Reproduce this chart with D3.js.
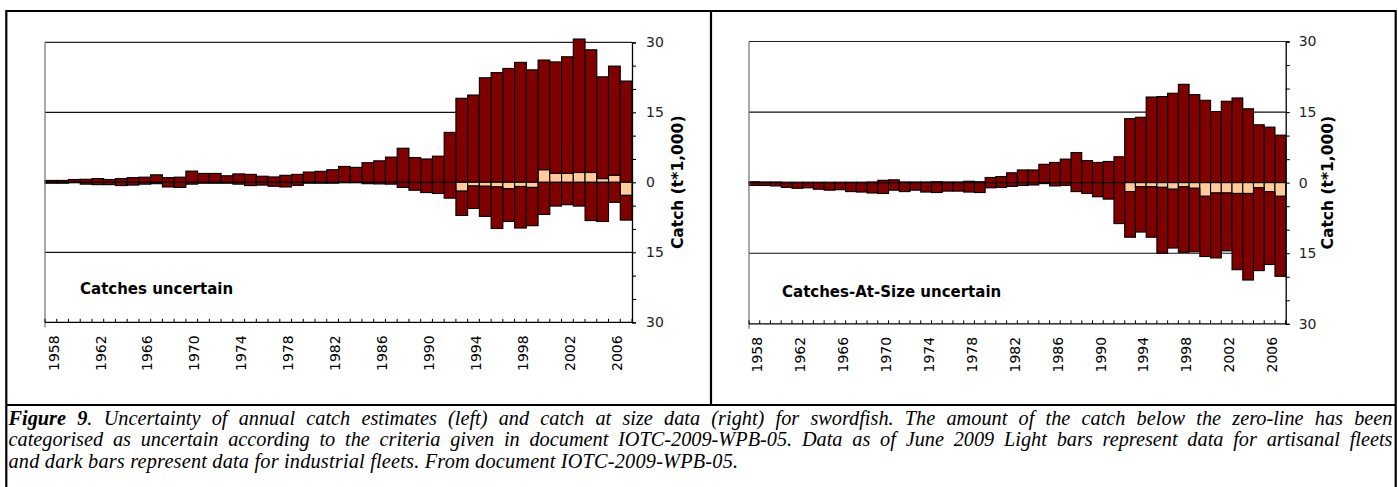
<!DOCTYPE html>
<html><head><meta charset="utf-8">
<script src="https://cdn.jsdelivr.net/npm/d3@7"></script>
<style>body{margin:0;background:#fff;} svg{display:block;}</style>
</head><body><svg id="c" width="1398" height="487"></svg>
<script>
// ---------- data (thousand tonnes) ----------
const years = [1958,1959,1960,1961,1962,1963,1964,1965,1966,1967,1968,1969,1970,1971,1972,1973,1974,1975,1976,1977,
  1978,1979,1980,1981,1982,1983,1984,1985,1986,1987,1988,1989,1990,1991,1992,1993,1994,1995,1996,1997,
  1998,1999,2000,2001,2002,2003,2004,2005,2006,2007];
const yearTickLabels = [1958,1962,1966,1970,1974,1978,1982,1986,1990,1994,1998,2002,2006];
const yTickValues = [-30,-25,-20,-15,-10,-5,0,5,10,15,20,25,30];
const yLabelValues = [-30,-15,0,15,30];

// Left: catches uncertain
const catchLightCertain = [0,0,0,0,0,0,0,0,0,0, 0,0,0,0,0,0,0,0,0,0,
  0,0,0,0,0,0,0,0,0,0, 0,0,0,0,0,0,0,0,0,0,
  0,0,2.7,1.9,1.9,2.1,2.1,0.8,1.5,0];
const catchDarkCertain = [0.4,0.4,0.6,0.65,0.8,0.6,0.8,1.0,1.1,1.6, 1.0,1.1,2.4,1.9,1.9,1.4,1.8,1.7,1.3,1.15,
  1.5,1.7,2.2,2.35,2.7,3.4,3.2,4.2,4.6,5.4, 7.3,5.3,5.0,5.6,10.7,18.0,18.7,22.4,23.5,24.4,
  25.7,24.1,23.5,23.9,25.0,28.6,26.3,21.8,23.4,21.7];
const catchLightUncertain = [0,0,0,0,0,0,0,0,0,0, 0,0,0,0,0,0,0,0,0,0,
  0,0,0,0,0,0,0,0,0,0, 0,0,0,0,0,1.9,0.8,0.85,1.0,1.4,
  0.9,1.1,0,0,0,0,0,0,0,2.8];
const catchDarkUncertain = [0.2,0.2,0.1,0.4,0.5,0.5,0.7,0.6,0.4,0.3, 1.0,1.1,0.4,0.2,0.2,0.2,0.4,0.7,0.6,0.85,
  1.0,0.65,0.2,0.2,0.2,0.1,0.1,0.3,0.35,0.4, 1.1,1.7,2.2,2.4,3.4,5.2,4.8,6.45,8.9,7.0,
  8.9,8.2,6.9,5.1,4.8,5.1,8.2,8.4,4.3,5.3];

// Right: catches-at-size uncertain
const casLightCertain = [0,0,0,0,0,0,0,0,0,0, 0,0,0,0,0,0,0,0,0,0,
  0,0,0,0,0,0,0,0,0,0, 0,0,0,0,0,0,0,0,0,0,
  0,0,0,0,0,0,0,0,0,0];
const casDarkCertain = [0.2,0.15,0.15,0.1,0.1,0.1,0.1,0.1,0.1,0.1, 0.1,0.15,0.5,0.6,0.15,0.15,0.15,0.2,0.15,0.15,
  0.3,0.2,1.1,1.3,2.1,2.7,2.7,3.9,4.3,5.0, 6.4,4.7,4.3,4.5,5.5,13.6,13.9,18.2,18.3,19.0,
  20.9,18.7,17.5,15.1,17.3,18.0,15.7,12.3,11.8,10.1];
const casLightUncertain = [0,0,0,0,0,0,0,0,0,0, 0,0,0,0,0,0,0,0,0,0,
  0,0,0,0,0,0,0,0,0,0, 0,0,0,0,0,1.9,0.85,0.85,1.0,1.4,
  0.85,1.2,2.9,2.2,2.2,2.3,2.3,1.1,1.9,2.9];
const casDarkUncertain = [0.6,0.6,0.7,1.0,1.2,1.1,1.4,1.6,1.5,1.9, 2.0,2.2,2.3,1.6,1.9,1.6,2.0,2.1,1.8,1.8,
  2.0,2.1,1.1,1.0,0.8,0.6,0.5,0.2,0.7,0.6, 1.9,2.3,3.0,3.5,8.7,9.7,9.65,10.75,14.0,12.5,
  13.95,13.5,12.8,13.8,12.3,16.2,18.4,17.6,15.5,17.0];

const panelTitles = ["Catches uncertain", "Catches-At-Size uncertain"];
const axisTitle = "Catch (t*1,000)";
const captionLines = [
  [["Figure 9", true], [". Uncertainty of annual catch estimates (left) and catch at size data (right) for swordfish. The amount of the catch below the zero-line has been", false]],
  [["categorised as uncertain according to the criteria given in document IOTC-2009-WPB-05. Data as of June 2009 Light bars represent data for artisanal fleets", false]],
  [["and dark bars represent data for industrial fleets. From document IOTC-2009-WPB-05.", false]]
];

// ---------- drawing ----------
const DARK = "#800000", LIGHT = "#FFCC99";
const svg = d3.select("#c");
svg.append("rect").attr("width",1398).attr("height",487).attr("fill","#fff");

const panels = [
  {x0:45, x1:632, top:42.3, bottom:322.3, series:[catchLightCertain,catchDarkCertain,catchLightUncertain,catchDarkUncertain],
   title:panelTitles[0], tx:80, ty:294, labPad:10, axTx:683},
  {x0:749, x1:1285.7, top:41.5, bottom:323.8, series:[casLightCertain,casDarkCertain,casLightUncertain,casDarkUncertain],
   title:panelTitles[1], tx:782, ty:297, labPad:9, axTx:1333}
];
const keys = ["lc","dc","lu","du"];
const fills = {lc:LIGHT, dc:DARK, lu:LIGHT, du:DARK};

panels.forEach(p => {
  const g = svg.append("g");
  const x = d3.scaleBand().domain(years).range([p.x0, p.x1]).padding(0);
  const y = d3.scaleLinear().domain([-30, 30]).range([p.bottom, p.top]);

  // gridlines
  g.selectAll("line.grid").data([30, 15, -15]).join("line")
    .attr("x1", p.x0).attr("x2", p.x1).attr("y1", d => y(d)).attr("y2", d => y(d))
    .attr("stroke", d => d === 30 ? "#222" : "#111").attr("stroke-width", 1.2);

  // stacked bars
  const rows = years.map((yr, i) => ({year: yr, lc: p.series[0][i], dc: p.series[1][i], lu: -p.series[2][i], du: -p.series[3][i]}));
  const stacked = d3.stack().keys(keys).offset(d3.stackOffsetDiverging)(rows);
  stacked.forEach(s => {
    g.append("g").selectAll("rect").data(s.filter(d => d[1] !== d[0])).join("rect")
      .attr("x", d => x(d.data.year))
      .attr("width", x.bandwidth())
      .attr("y", d => y(d[1]))
      .attr("height", d => y(d[0]) - y(d[1]))
      .attr("fill", fills[s.key])
      .attr("stroke", "#000").attr("stroke-width", 1.1);
  });

  // left frame line
  g.append("line").attr("x1", p.x0).attr("x2", p.x0).attr("y1", y(30)).attr("y2", y(-30) + 5)
    .attr("stroke", "#707070").attr("stroke-width", 1.2);

  // x axis
  g.append("line").attr("x1", p.x0).attr("x2", p.x1).attr("y1", y(-30)).attr("y2", y(-30))
    .attr("stroke", "#000").attr("stroke-width", 1.3);
  const bounds = years.map(v => x(v)).concat([p.x1]);
  g.selectAll("line.xt").data(bounds).join("line")
    .attr("x1", d => d).attr("x2", d => d).attr("y1", y(-30) - 3.5).attr("y2", y(-30))
    .attr("stroke", "#000").attr("stroke-width", 1);
  const xAxis = d3.axisBottom(x).tickValues(yearTickLabels).tickSize(0).tickPadding(0);
  const xg = g.append("g").attr("transform", `translate(0,${y(-30)})`).call(xAxis);
  xg.select(".domain").remove();
  xg.selectAll("text")
    .attr("transform", "rotate(-90)")
    .attr("text-anchor", "end")
    .attr("x", -13).attr("y", 0).attr("dy", "0.55em")
    .attr("font-family", "DejaVu Sans").attr("font-size", 14).attr("fill", "#000");

  // right y axis
  const yAxis = d3.axisRight(y).tickValues(yTickValues).tickSize(4).tickPadding(p.labPad)
    .tickFormat(d => yLabelValues.includes(d) ? String(Math.abs(d)) : "");
  const yg = g.append("g").attr("transform", `translate(${p.x1},0)`).call(yAxis);
  yg.select(".domain").attr("stroke", "#000").attr("stroke-width", 1.3);
  yg.selectAll(".tick line").attr("stroke", "#000").attr("stroke-width", 1.1);
  yg.selectAll("text").attr("font-family", "DejaVu Sans").attr("font-size", 14).attr("fill", "#222");

  // axis title
  g.append("text").attr("transform", `translate(${p.axTx},${y(0)}) rotate(-90)`)
    .attr("text-anchor", "middle").attr("font-family", "DejaVu Sans").attr("font-weight", "bold")
    .attr("font-size", 15.5).text(axisTitle);

  // panel title
  g.append("text").attr("x", p.tx).attr("y", p.ty)
    .attr("font-family", "DejaVu Sans").attr("font-weight", "bold").attr("font-size", 15)
    .text(p.title);
});

// borders
const border = svg.append("g").attr("stroke", "#000").attr("stroke-width", 2.2).attr("fill", "none");
border.append("path").attr("d", "M6.3,487 V11 H1395.7 V487");
border.append("line").attr("x1", 711).attr("x2", 711).attr("y1", 11).attr("y2", 405);
border.append("line").attr("x1", 6.3).attr("x2", 1395.7).attr("y1", 405).attr("y2", 405);

// caption (justified by word spacing)
const baselines = [424.5, 446.2, 467.9];
const targetW = 1384;
captionLines.forEach((line, i) => {
  const t = svg.append("text").attr("x", 8.5).attr("y", baselines[i])
    .attr("font-family", "Liberation Serif").attr("font-style", "italic").attr("font-size", 20.3).attr("fill", "#000");
  line.forEach(([s, b]) => t.append("tspan").attr("font-weight", b ? "bold" : "normal").text(s));
  if (i < 2) {
    const w = t.node().getComputedTextLength();
    const spaces = line.map(l => l[0]).join("").split(" ").length - 1;
    const ws = (targetW - w) / spaces;
    t.style("word-spacing", ws + "px");
    const w2 = t.node().getComputedTextLength();
    if (Math.abs(w2 - targetW) > 3) t.style("word-spacing", null).attr("textLength", targetW).attr("lengthAdjust", "spacing");
  } else {
    t.style("letter-spacing", "0.2px");
  }
});
</script></body></html>
